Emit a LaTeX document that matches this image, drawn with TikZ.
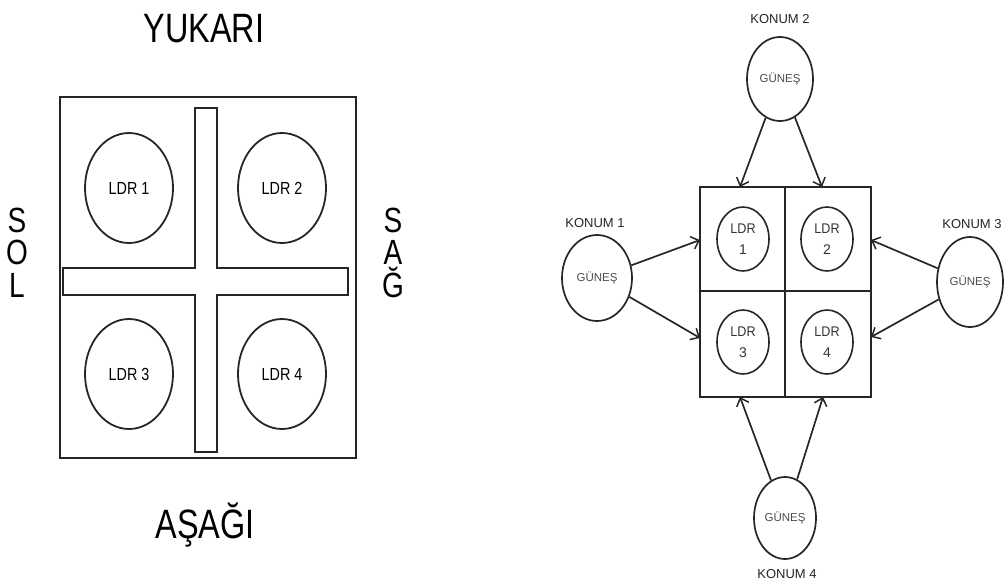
\documentclass[tikz,border=0pt]{standalone}
\usepackage{fontspec}
\usepackage{graphicx}
\setmainfont{Liberation Sans}
\usetikzlibrary{shapes.geometric,arrows.meta}
% narrow lettering
\newcommand{\narrow}[2][0.8]{\scalebox{#1}[1]{#2}}
\begin{document}
\begin{tikzpicture}[x=1pt,y=-1pt,
  edge/.style={line width=2pt,draw=black!85},
  ldrbig/.style={ellipse,draw=black!85,line width=1.8pt,minimum width=88pt,minimum height=110pt,inner sep=0pt,
     font=\fontsize{17.5}{20}\selectfont},
  ldrsmall/.style={ellipse,draw=black!85,line width=1.6pt,minimum width=52pt,minimum height=64pt,inner sep=0pt,
     align=center,text=black!80,font=\fontsize{14}{21}\selectfont},
  sun/.style={ellipse,draw=black!85,line width=1.7pt,inner sep=0pt,text=black!70,
     font=\fontsize{11.5}{13}\selectfont},
  konum/.style={font=\fontsize{13}{15}\selectfont,text=black!85,inner sep=0pt},
  side/.style={font=\fontsize{41}{44}\selectfont,inner sep=0pt},
  letter/.style={font=\fontsize{35}{38}\selectfont,inner sep=0pt,anchor=base},
  ray/.style={line width=1.7pt,draw=black!85,-{Straight Barb[length=7pt,width=13pt,line width=1.5pt]}}
]
\useasboundingbox (0,0) rectangle (1005,584);

% ---------- left: sensor housing seen from the front ----------
\draw[edge] (60,97) rectangle (356,458);
% cross-shaped divider
\draw[edge] (195,108) -- (217,108) -- (217,268) -- (348,268) -- (348,295) -- (217,295)
  -- (217,452) -- (195,452) -- (195,295) -- (63,295) -- (63,268) -- (195,268) -- cycle;

\node[ldrbig] (l1) at (129,188) {\narrow[0.82]{LDR 1}};
\node[ldrbig] (l2) at (282,188) {\narrow[0.82]{LDR 2}};
\node[ldrbig] (l3) at (129,374) {\narrow[0.82]{LDR 3}};
\node[ldrbig] (l4) at (282,374) {\narrow[0.82]{LDR 4}};

\node[side] (yukari) at (204,29) {\narrow[0.79]{YUKARI}};
\node[side] (asagi) at (205,525) {\narrow[0.79]{AŞAĞI}};

% side words, one letter per line
\node[letter] (sol1) at (17,232) {\narrow{S}};
\node[letter] (sol2) at (17,264) {\narrow{O}};
\node[letter] (sol3) at (17,297) {\narrow{L}};
\node[letter] (sag1) at (393,232) {\narrow{S}};
\node[letter] (sag2) at (393,264) {\narrow{A}};
\node[letter] (sag3) at (393,297) {\narrow{Ğ}};

% ---------- right: sun positions around the sensor grid ----------
\draw[edge] (700,187) rectangle (871,397);
\draw[edge] (785,187) -- (785,397);
\draw[edge] (700,291) -- (871,291);

\node[ldrsmall] (s1) at (743,239) {\narrow[0.9]{LDR}\\1};
\node[ldrsmall] (s2) at (827,239) {\narrow[0.9]{LDR}\\2};
\node[ldrsmall] (s3) at (743,342) {\narrow[0.9]{LDR}\\3};
\node[ldrsmall] (s4) at (827,342) {\narrow[0.9]{LDR}\\4};

\node[sun,minimum width=70pt,minimum height=86pt] (g1) at (597,278) {GÜNEŞ};
\node[sun,minimum width=66pt,minimum height=84pt] (g2) at (780,79) {GÜNEŞ};
\node[sun,minimum width=66pt,minimum height=90pt] (g3) at (970,282) {GÜNEŞ};
\node[sun,minimum width=62pt,minimum height=82pt] (g4) at (785,518) {GÜNEŞ};

\node[konum] (k1) at (595,223) {KONUM 1};
\node[konum] (k2) at (780,19) {KONUM 2};
\node[konum] (k3) at (972,224) {KONUM 3};
\node[konum] (k4) at (787,574) {KONUM 4};

% arrow targets on the grid border
\coordinate (tt1) at (740,187);
\coordinate (tt2) at (822,187);
\coordinate (tl1) at (700,240);
\coordinate (tl3) at (700,338);
\coordinate (tr2) at (871,240);
\coordinate (tr4) at (871,337);
\coordinate (tb3) at (740,397);
\coordinate (tb4) at (823,397);

\draw[ray] (g2) -- (tt1);
\draw[ray] (g2) -- (tt2);
\draw[ray] (g1) -- (tl1);
\draw[ray] (g1) -- (tl3);
\draw[ray] (g3) -- (tr2);
\draw[ray] (g3) -- (tr4);
\draw[ray] (g4) -- (tb3);
\draw[ray] (g4) -- (tb4);
\end{tikzpicture}
\end{document}
